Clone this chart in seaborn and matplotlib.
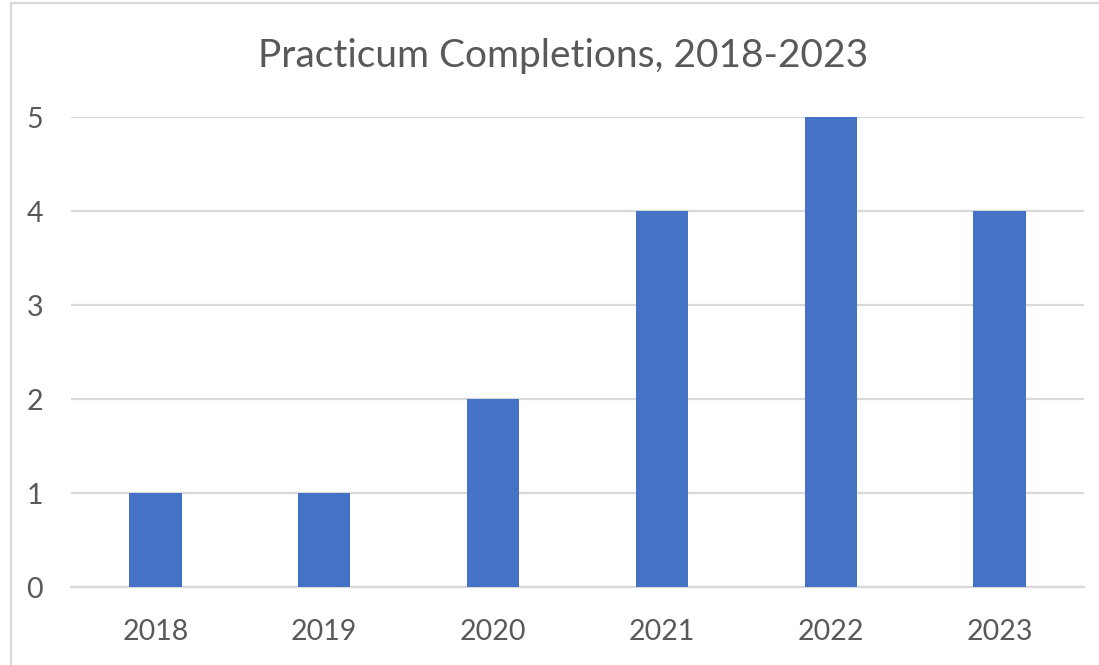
import matplotlib
matplotlib.use("Agg")
import matplotlib.pyplot as plt
import pandas as pd
import seaborn as sns
from matplotlib.lines import Line2D

years = ["2018", "2019", "2020", "2021", "2022", "2023"]
completions = [1, 1, 2, 4, 5, 4]
y_ticks = [0, 1, 2, 3, 4, 5]
title = "Practicum Completions, 2018-2023"

BAR = "#4472C4"
GRID = "#D9D9D9"
TEXT = "#595959"


def main() -> None:
    df = pd.DataFrame({"year": years, "completions": completions})

    sns.set_style("white")
    plt.rcParams["font.family"] = ["Lato", "DejaVu Sans"]

    fig = plt.figure(figsize=(10.99, 6.65), dpi=100)
    ax = fig.add_axes([71 / 1099, 78 / 665, 1013 / 1099, 470 / 665])

    sns.barplot(data=df, x="year", y="completions", color=BAR,
                saturation=1, width=0.31, linewidth=0, ax=ax, zorder=3)

    ax.set_ylim(0, 5)
    ax.set_yticks(y_ticks)
    ax.set_xlim(-0.5, len(years) - 0.5)
    ax.yaxis.grid(True, color=GRID, linewidth=1.6, zorder=0)
    ax.set_axisbelow(True)
    for side in ["top", "right", "left"]:
        ax.spines[side].set_visible(False)
    ax.spines["bottom"].set_color(GRID)
    ax.spines["bottom"].set_linewidth(1.6)
    ax.set_xlabel("")
    ax.set_ylabel("")
    ax.tick_params(axis="x", length=0, pad=23, labelsize=20.5, labelcolor=TEXT)
    ax.tick_params(axis="y", length=0, pad=20, labelsize=20.5, labelcolor=TEXT)

    fig.text(563 / 1099, 1 - 56 / 665, title, ha="center", va="center",
             fontsize=28, color=TEXT)

    # chart frame (left and top edges visible in the crop)
    fig.add_artist(Line2D([11 / 1099, 11 / 1099], [0, 1 - 3 / 665],
                          transform=fig.transFigure, color=GRID, linewidth=1.6))
    fig.add_artist(Line2D([11 / 1099, 1], [1 - 3 / 665, 1 - 3 / 665],
                          transform=fig.transFigure, color=GRID, linewidth=1.6))

    fig.savefig("out.png", dpi=100)


if __name__ == "__main__":
    main()
